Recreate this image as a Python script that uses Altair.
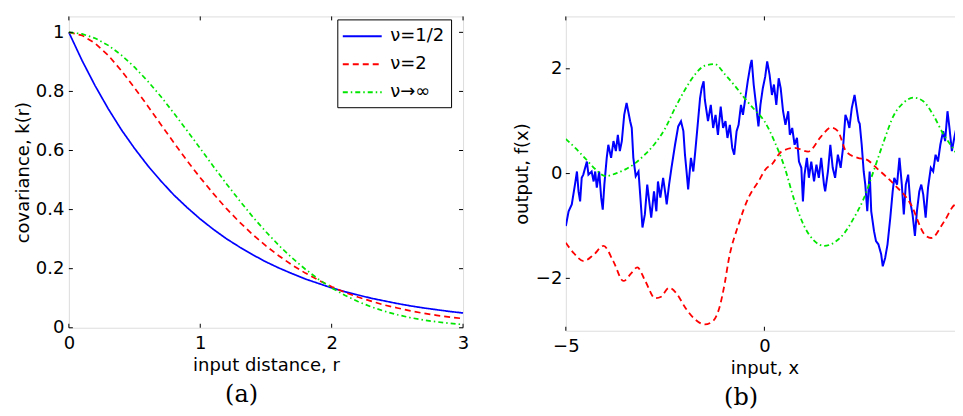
import altair as alt
import pandas as pd

# ---------------- panel (a): covariance functions ----------------
r_grid = [0.0, 0.1, 0.2, 0.3, 0.4, 0.5, 0.6, 0.7, 0.8, 0.9, 1.0,
          1.1, 1.2, 1.3, 1.4, 1.5, 1.6, 1.7, 1.8, 1.9, 2.0,
          2.1, 2.2, 2.3, 2.4, 2.5, 2.6, 2.7, 2.8, 2.9, 3.0]
k_half = [1.0, 0.905, 0.819, 0.741, 0.670, 0.607, 0.549, 0.497, 0.449, 0.407, 0.368,
          0.333, 0.301, 0.273, 0.247, 0.223, 0.202, 0.183, 0.165, 0.150, 0.135,
          0.122, 0.111, 0.100, 0.091, 0.082, 0.074, 0.067, 0.061, 0.055, 0.050]
k_two = [1.0, 0.990, 0.963, 0.922, 0.870, 0.812, 0.751, 0.688, 0.626, 0.565, 0.508,
         0.454, 0.403, 0.357, 0.315, 0.277, 0.243, 0.212, 0.185, 0.161, 0.139,
         0.120, 0.104, 0.090, 0.077, 0.067, 0.057, 0.049, 0.042, 0.036, 0.031]
k_inf = [1.0, 0.995, 0.980, 0.956, 0.923, 0.882, 0.835, 0.783, 0.726, 0.667, 0.607,
         0.546, 0.487, 0.430, 0.375, 0.325, 0.278, 0.236, 0.198, 0.164, 0.135,
         0.110, 0.089, 0.071, 0.056, 0.044, 0.034, 0.026, 0.020, 0.015, 0.011]
nu_labels = ["ν=1/2", "ν=2", "ν→∞"]
series_colors = ["#0000ff", "#ff0000", "#00e600"]
series_dashes = [[1, 0], [6, 4], [5, 3, 1.5, 3]]

left_xticks = [0, 1, 2, 3]
left_yticks = [0, 0.2, 0.4, 0.6, 0.8, 1]

# ---------------- panel (b): sample functions ----------------
blue_x = [-5.00, -4.93, -4.85, -4.77, -4.72, -4.68, -4.64, -4.60, -4.56, -4.47,
          -4.43, -4.35, -4.30, -4.26, -4.22, -4.16, -4.11, -4.07, -4.03, -3.97,
          -3.93, -3.86, -3.80, -3.74, -3.69, -3.64, -3.59, -3.53, -3.47, -3.38,
          -3.34, -3.30, -3.24, -3.17, -3.11, -3.07, -3.01, -2.95, -2.90, -2.85,
          -2.78, -2.72, -2.68, -2.62, -2.55, -2.49, -2.46, -2.40, -2.34, -2.25,
          -2.17, -2.10, -2.04, -2.00, -1.96, -1.92, -1.85, -1.79, -1.74, -1.68,
          -1.62, -1.58, -1.53, -1.50, -1.42, -1.35, -1.29, -1.23, -1.17, -1.10,
          -1.04, -0.98, -0.93, -0.87, -0.81, -0.76, -0.70, -0.65, -0.59, -0.54,
          -0.48, -0.42, -0.35, -0.32, -0.27, -0.21, -0.15, -0.10, -0.04, 0.02,
          0.07, 0.13, 0.19, 0.24, 0.30, 0.36, 0.41, 0.47, 0.53, 0.60,
          0.64, 0.70, 0.76, 0.82, 0.87, 0.93, 0.97, 1.01, 1.07, 1.12,
          1.18, 1.25, 1.31, 1.37, 1.43, 1.50, 1.53, 1.60, 1.66, 1.72,
          1.78, 1.85, 1.92, 1.98, 2.04, 2.10, 2.14, 2.20, 2.27, 2.32,
          2.37, 2.40, 2.45, 2.50, 2.54, 2.59, 2.65, 2.69, 2.76, 2.81,
          2.87, 2.94, 2.98, 3.04, 3.10, 3.17, 3.23, 3.27, 3.34, 3.40,
          3.46, 3.51, 3.56, 3.62, 3.67, 3.73, 3.79, 3.84, 3.90, 3.95,
          4.00, 4.06, 4.12, 4.19, 4.25, 4.31, 4.37, 4.43, 4.50, 4.55,
          4.61, 4.66, 4.72, 4.78, 4.85, 4.90, 4.95, 5.00]
blue_y = [-1.00, -0.72, -0.59, -0.21, 0.04, -0.34, -0.53, -0.08, -0.02, 0.23,
          -0.02, 0.04, -0.15, 0.04, -0.27, 0.04, -0.46, -0.69, -0.21, 0.30,
          0.55, 0.30, 0.62, 0.43, 0.74, 0.43, 0.62, 1.12, 1.35, 1.00,
          0.87, 0.30, -0.05, 0.04, -0.59, -1.03, -0.78, -0.21, -0.53, -0.84,
          -0.34, -0.72, -0.15, -0.46, -0.08, -0.40, -0.59, -0.21, 0.11, 0.55,
          0.90, 1.00, 0.81, 0.36, 0.04, -0.30, 0.30, 0.04, 0.43, 0.93,
          1.44, 1.63, 1.76, 1.41, 1.00, 1.31, 0.87, 1.12, 0.74, 1.28,
          0.87, 1.00, 0.68, 0.93, 0.49, 0.36, 0.81, 0.93, 1.31, 1.12,
          1.44, 1.76, 2.08, 2.17, 1.70, 1.31, 0.90, 1.31, 1.63, 1.85,
          2.14, 1.89, 1.50, 1.70, 1.31, 1.82, 1.63, 1.19, 0.93, 1.19,
          0.74, 0.87, 0.55, 0.68, 0.23, 0.11, -0.53, -0.02, 0.30, -0.08,
          0.23, -0.15, 0.17, -0.08, 0.30, -0.21, -0.34, 0.04, 0.55, 0.11,
          -0.08, 0.36, 0.11, 0.49, 1.12, 1.00, 0.87, 1.25, 1.50, 1.25,
          1.00, 0.95, 0.55, 0.04, -0.21, -0.72, 0.04, -0.72, -1.10, -1.29,
          -1.35, -1.54, -1.77, -1.61, -1.35, -0.84, -0.34, -0.08, -0.21, 0.30,
          -0.21, -0.78, -0.21, -0.02, -0.53, -0.78, -1.19, -0.72, -0.34, -0.21,
          -0.40, -0.84, -0.27, 0.11, 0.04, 0.36, 0.23, 0.55, 0.81, 0.62,
          1.19, 0.87, 0.43, 0.68, 0.93, 1.44, 1.19, 1.30]

red_x = [-5.00, -4.80, -4.55, -4.30, -4.05, -3.80, -3.55, -3.35, -3.20, -3.00,
         -2.75, -2.60, -2.40, -2.20, -2.00, -1.75, -1.50, -1.30, -1.13, -1.00,
         -0.90, -0.65, -0.40, -0.15, 0.05, 0.18, 0.43, 0.76, 1.10, 1.43,
         1.68, 1.85, 2.06, 2.35, 2.56, 2.86, 3.27, 3.69, 4.03, 4.20,
         4.53, 4.82, 5.00]
red_y = [-1.32, -1.52, -1.67, -1.55, -1.38, -1.68, -2.05, -1.90, -1.79, -2.05,
         -2.38, -2.35, -2.18, -2.30, -2.55, -2.78, -2.88, -2.82, -2.55, -2.10,
         -1.65, -0.97, -0.46, -0.15, 0.10, 0.17, 0.42, 0.49, 0.42, 0.71,
         0.88, 0.81, 0.42, 0.30, 0.27, 0.08, -0.21, -0.59, -1.16, -1.23,
         -0.91, -0.59, -0.68]

green_x = [-5.00, -4.75, -4.50, -4.25, -4.00, -3.75, -3.50, -3.25, -3.00, -2.75,
           -2.50, -2.25, -2.00, -1.75, -1.50, -1.25, -1.00, -0.75, -0.50, -0.25,
           0.00, 0.25, 0.50, 0.75, 1.00, 1.25, 1.50, 1.75, 2.00, 2.25,
           2.50, 2.75, 3.00, 3.25, 3.50, 3.75, 4.00, 4.25, 4.50, 4.75, 5.00]
green_y = [0.66, 0.48, 0.28, 0.08, -0.05, 0.00, 0.08, 0.20, 0.37, 0.58,
           0.86, 1.25, 1.60, 1.89, 2.06, 2.09, 1.90, 1.68, 1.44, 1.22,
           1.00, 0.62, 0.14, -0.50, -1.00, -1.28, -1.38, -1.32, -1.15, -0.85,
           -0.48, 0.05, 0.60, 1.10, 1.35, 1.45, 1.38, 1.12, 0.76, 0.48, 0.20]

right_xticks = [-5, 0, 5]
right_yticks = [-2, 0, 2]

# ---------------- styling ----------------
FONT = "DejaVu Sans"
LW, LH = 395, 312
RW, RH = 398, 315
TICK = 4

ax_common = dict(labelFont=FONT, labelFontSize=18, labelColor="black",
                 titleFont=FONT, titleFontSize=18, titleFontWeight="normal",
                 titleColor="black", domain=False, ticks=False, grid=False,
                 labelFlush=False)

# ---------------- build panel (a) ----------------
rowsL = []
for lab, ks in zip(nu_labels, [k_half, k_two, k_inf]):
    for rv, kv in zip(r_grid, ks):
        rowsL.append({"r": rv, "k": kv, "nu": lab})
dfL = pd.DataFrame(rowsL)

xL = alt.Scale(domain=[0, 3], nice=False)
yL = alt.Scale(domain=[0, 1.054], nice=False)
axXL = alt.Axis(values=left_xticks, format="d", title="input distance, r",
                labelPadding=7, titlePadding=4, **ax_common)
axYL = alt.Axis(values=left_yticks, format="~g", title="covariance, k(r)",
                labelPadding=5, titlePadding=3, **ax_common)

leg = alt.Legend(title=None, orient="none", legendX=269, legendY=3,
                 symbolType="M-1.95,0H1.95", symbolSize=400, symbolStrokeWidth=2,
                 labelFont=FONT, labelFontSize=18, labelColor="black",
                 strokeColor="black", fillColor="white", padding=6,
                 rowPadding=8, symbolOffset=8, labelOffset=17)

linesL = alt.Chart(dfL).mark_line(strokeWidth=1.7).encode(
    x=alt.X("r:Q", scale=xL, axis=axXL),
    y=alt.Y("k:Q", scale=yL, axis=axYL),
    color=alt.Color("nu:N", scale=alt.Scale(domain=nu_labels, range=series_colors), legend=leg),
    strokeDash=alt.StrokeDash("nu:N", scale=alt.Scale(domain=nu_labels, range=series_dashes), legend=leg),
)

tyL = pd.DataFrame({"k": left_yticks})
txL = pd.DataFrame({"r": left_xticks})
tickL1 = alt.Chart(tyL).mark_rule(color="black", strokeWidth=1).encode(
    y=alt.Y("k:Q", scale=yL, axis=axYL), x=alt.value(0), x2=alt.value(TICK))
tickL2 = alt.Chart(tyL).mark_rule(color="black", strokeWidth=1).encode(
    y=alt.Y("k:Q", scale=yL, axis=axYL), x=alt.value(LW - TICK), x2=alt.value(LW))
tickL3 = alt.Chart(txL).mark_rule(color="black", strokeWidth=1).encode(
    x=alt.X("r:Q", scale=xL, axis=axXL), y=alt.value(LH - TICK), y2=alt.value(LH))
tickL4 = alt.Chart(txL).mark_rule(color="black", strokeWidth=1).encode(
    x=alt.X("r:Q", scale=xL, axis=axXL), y=alt.value(0), y2=alt.value(TICK))
spacer = alt.Chart(pd.DataFrame({"k": [0]})).mark_rule(strokeOpacity=0).encode(
    x=alt.value(0), y=alt.value(-3), y2=alt.value(0))

title_style = dict(orient="bottom", font="DejaVu Serif", fontSize=24,
                   fontWeight="normal", color="black", anchor="middle",
                   frame="bounds", offset=8)

left = alt.layer(linesL, tickL1, tickL2, tickL3, tickL4, spacer).properties(
    width=LW, height=LH, title=alt.TitleParams("(a)", **title_style))

# ---------------- build panel (b) ----------------
xR = alt.Scale(domain=[-5, 5], nice=False)
yR = alt.Scale(domain=[-3, 3], nice=False)
axXR = alt.Axis(values=right_xticks, format="d", title="input, x",
                labelPadding=7, titlePadding=4, **ax_common)
axYR = alt.Axis(values=right_yticks, format="d", title="output, f(x)",
                labelPadding=4, titlePadding=4, **ax_common)

dfB = pd.DataFrame({"x": blue_x, "y": blue_y})
dfR = pd.DataFrame({"x": red_x, "y": red_y})
dfG = pd.DataFrame({"x": green_x, "y": green_y})

def enc(ch):
    return ch.encode(x=alt.X("x:Q", scale=xR, axis=axXR),
                     y=alt.Y("y:Q", scale=yR, axis=axYR))

lineB = enc(alt.Chart(dfB).mark_line(color="#0000ff", strokeWidth=2.0, clip=True))
lineR = enc(alt.Chart(dfR).mark_line(color="#ff0000", strokeWidth=1.8,
                                     strokeDash=[6, 4], interpolate="monotone", clip=True))
lineG = enc(alt.Chart(dfG).mark_line(color="#00e600", strokeWidth=1.8,
                                     strokeDash=[5, 3, 1.5, 3], interpolate="monotone", clip=True))

tyR = pd.DataFrame({"y": right_yticks})
txR = pd.DataFrame({"x": right_xticks})
tickR1 = alt.Chart(tyR).mark_rule(color="black", strokeWidth=1).encode(
    y=alt.Y("y:Q", scale=yR, axis=axYR), x=alt.value(0), x2=alt.value(TICK))
tickR2 = alt.Chart(tyR).mark_rule(color="black", strokeWidth=1).encode(
    y=alt.Y("y:Q", scale=yR, axis=axYR), x=alt.value(RW - TICK), x2=alt.value(RW))
tickR3 = alt.Chart(txR).mark_rule(color="black", strokeWidth=1).encode(
    x=alt.X("x:Q", scale=xR, axis=axXR), y=alt.value(RH - TICK), y2=alt.value(RH))
tickR4 = alt.Chart(txR).mark_rule(color="black", strokeWidth=1).encode(
    x=alt.X("x:Q", scale=xR, axis=axXR), y=alt.value(0), y2=alt.value(TICK))

right = alt.layer(lineB, lineR, lineG, tickR1, tickR2, tickR3, tickR4).properties(
    width=RW, height=RH, title=alt.TitleParams("(b)", **title_style))

chart = alt.hconcat(left, right, spacing=42).properties(
    padding={"left": 5, "top": 4, "right": -15, "bottom": 0}
).configure_view(stroke="black", strokeWidth=1.5).configure(background="white")

chart.save("out.html", embed_options={"renderer": "svg", "actions": False})
